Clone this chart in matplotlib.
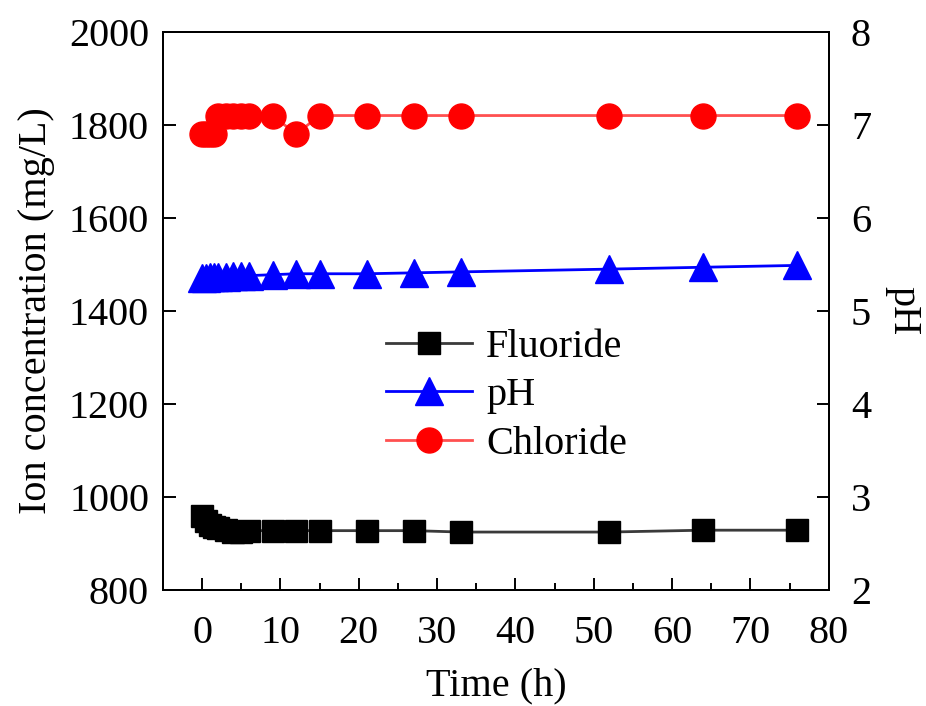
import matplotlib
matplotlib.use("Agg")
import matplotlib.pyplot as plt
from matplotlib.lines import Line2D
from matplotlib.ticker import MultipleLocator

plt.rcParams['font.family'] = ['Liberation Serif', 'DejaVu Serif']
plt.rcParams['mathtext.fontset'] = 'stix'

# data
time_h = [0, 0.5, 1, 1.5, 2, 3, 4, 5, 6, 9, 12, 15, 21, 27, 33, 52, 64, 76]
fluoride = [960, 948, 940, 936, 934, 930, 926, 926, 928, 928, 928, 928, 928, 928, 925, 925, 929, 929]
chloride = [1780, 1780, 1780, 1780, 1820, 1820, 1820, 1820, 1820, 1820, 1780, 1820, 1820, 1820, 1820, 1820, 1820, 1820]
ph = [5.35, 5.35, 5.36, 5.36, 5.37, 5.37, 5.38, 5.38, 5.38, 5.39, 5.40, 5.40, 5.40, 5.41, 5.42, 5.45, 5.47, 5.49]

fs = 29
fig = plt.figure(figsize=(9.26, 7.06), dpi=100)
ax = fig.add_axes([0.176, 0.164, 0.719, 0.791])
ax2 = ax.twinx()

ax.plot(time_h, fluoride, color='#3a3a3a', lw=2, marker='s', ms=16,
        mfc='black', mec='black', zorder=3)
ax.plot(time_h, chloride, color='#ff5050', lw=2, marker='o', ms=18,
        mfc='#ff0000', mec='#ff0000', zorder=3)
ax2.plot(time_h, ph, color='#0000ff', lw=2, marker='^', ms=20,
         mfc='#0000ff', mec='#0000ff', zorder=3)

ax.set_xlim(-5, 80)
ax.set_ylim(800, 2000)
ax2.set_ylim(2, 8)
ax.set_xticks(range(0, 81, 10))
ax.xaxis.set_minor_locator(MultipleLocator(5))
ax.set_yticks(range(800, 2001, 200))
ax2.set_yticks(range(2, 9))

for a in (ax, ax2):
    for s in a.spines.values():
        s.set_linewidth(1.4)
    a.tick_params(which='major', direction='in', length=9, width=1.4, labelsize=fs, pad=10)
    a.tick_params(which='minor', direction='in', length=5, width=1.4)
ax.tick_params(axis='x', which='both', top=False, pad=18)
ax2.tick_params(axis='y', pad=16)

ax.set_xlabel('Time (h)', fontsize=fs, labelpad=11)
ax.set_ylabel('Ion concentration (mg/L)', fontsize=fs, labelpad=10)
ax2.set_ylabel('pH', fontsize=fs, rotation=270, labelpad=36)

handles = [
    Line2D([], [], color='#3a3a3a', lw=2, marker='s', ms=16, mfc='black', mec='black'),
    Line2D([], [], color='#0000ff', lw=2, marker='^', ms=20, mfc='#0000ff', mec='#0000ff'),
    Line2D([], [], color='#ff5050', lw=2, marker='o', ms=18, mfc='#ff0000', mec='#ff0000'),
]
ax.legend(handles, ['Fluoride', 'pH', 'Chloride'], loc='center left',
          bbox_to_anchor=(0.28, 0.348), frameon=False, fontsize=fs,
          handlelength=2.15, handletextpad=0.35, labelspacing=0.28)

fig.savefig('out.png', dpi=100)
